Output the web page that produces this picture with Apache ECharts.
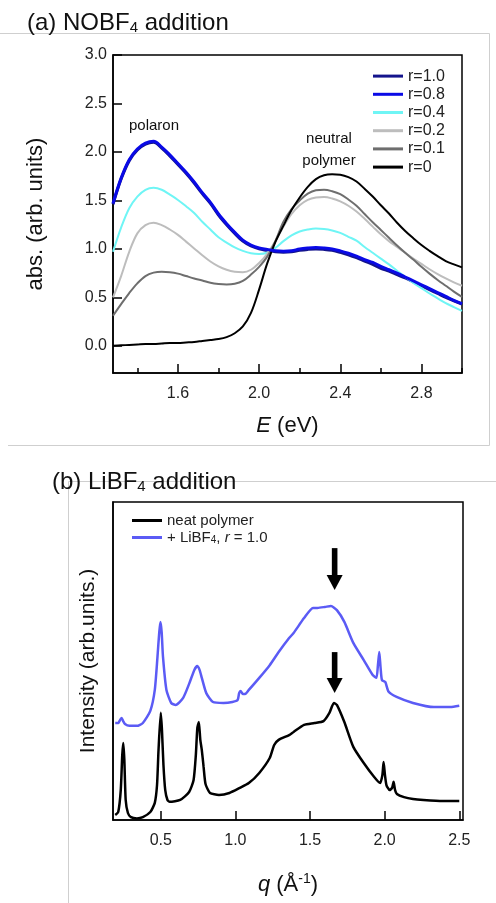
<!DOCTYPE html>
<html><head><meta charset="utf-8">
<script src="https://cdn.jsdelivr.net/npm/echarts@6/dist/echarts.min.js"></script>
<style>html,body{margin:0;padding:0;background:#fff}#c{width:496px;height:903px}</style>
</head><body><div id="c"></div>
<script>
// ---------- Panel (a): absorption vs photon energy ----------
const energy = [1.28,1.32,1.36,1.40,1.44,1.48,1.52,1.56,1.60,1.64,1.68,1.72,1.76,1.80,1.84,1.88,1.92,1.96,2.00,2.04,2.08,2.12,2.16,2.20,2.24,2.28,2.32,2.36,2.40,2.44,2.48,2.52,2.56,2.60,2.64,2.68,2.72,2.76,2.80,2.84,2.88,2.92,2.96,3.00];
const absR10 = [1.46,1.72,1.91,2.02,2.08,2.10,2.04,1.96,1.87,1.78,1.68,1.57,1.47,1.35,1.25,1.16,1.08,1.03,1.00,0.985,0.97,0.965,0.97,0.985,0.995,1.00,0.995,0.985,0.965,0.94,0.91,0.875,0.84,0.80,0.77,0.735,0.70,0.66,0.62,0.58,0.54,0.50,0.465,0.43];
const absR08 = [1.47,1.73,1.92,2.03,2.09,2.11,2.05,1.97,1.88,1.79,1.69,1.58,1.48,1.36,1.26,1.17,1.09,1.04,1.01,0.995,0.98,0.975,0.98,1.00,1.01,1.015,1.01,1.00,0.98,0.955,0.925,0.89,0.86,0.82,0.785,0.75,0.71,0.67,0.63,0.59,0.55,0.51,0.47,0.435];
const absR04 = [0.97,1.22,1.42,1.54,1.61,1.63,1.61,1.56,1.505,1.44,1.37,1.28,1.20,1.12,1.065,1.015,0.98,0.955,0.948,0.96,1.01,1.08,1.14,1.18,1.20,1.21,1.205,1.19,1.165,1.125,1.085,1.02,0.96,0.90,0.84,0.775,0.71,0.65,0.595,0.54,0.49,0.44,0.40,0.36];
const absR02 = [0.50,0.72,0.97,1.16,1.245,1.27,1.245,1.20,1.145,1.075,1.005,0.935,0.87,0.82,0.785,0.765,0.76,0.785,0.855,0.95,1.08,1.23,1.36,1.45,1.505,1.53,1.535,1.52,1.49,1.445,1.385,1.31,1.23,1.15,1.08,1.02,0.96,0.90,0.845,0.79,0.74,0.695,0.655,0.62];
const absR01 = [0.31,0.43,0.545,0.645,0.72,0.755,0.765,0.76,0.745,0.72,0.695,0.675,0.65,0.637,0.632,0.64,0.67,0.735,0.815,0.92,1.08,1.28,1.41,1.50,1.57,1.605,1.61,1.595,1.565,1.51,1.445,1.36,1.275,1.195,1.115,1.035,0.96,0.89,0.815,0.745,0.68,0.62,0.56,0.505];
const absR0  = [0.00,0.005,0.01,0.015,0.02,0.02,0.025,0.03,0.03,0.035,0.04,0.05,0.06,0.07,0.09,0.13,0.20,0.34,0.58,0.85,1.07,1.24,1.40,1.53,1.64,1.72,1.76,1.77,1.765,1.74,1.695,1.62,1.54,1.45,1.365,1.27,1.185,1.11,1.04,0.98,0.925,0.875,0.84,0.81];
const seriesNamesA = ['r=1.0','r=0.8','r=0.4','r=0.2','r=0.1','r=0'];
const yTicksA = [0.0,0.5,1.0,1.5,2.0,2.5,3.0];
const xMajorA = [1.6,2.0,2.4,2.8];
const xMinorA = [1.4,1.8,2.2,2.6,3.0];

// ---------- Panel (b): scattering intensity vs q ----------
const qNeat = [0.195,0.215,0.232,0.242,0.249,0.256,0.265,0.28,0.30,0.34,0.38,0.43,0.46,0.475,0.485,0.50,0.508,0.518,0.53,0.545,0.56,0.63,0.69,0.72,0.735,0.745,0.755,0.765,0.775,0.787,0.80,0.83,0.89,0.96,1.03,1.09,1.16,1.23,1.26,1.29,1.36,1.39,1.46,1.53,1.59,1.63,1.66,1.68,1.73,1.79,1.86,1.93,1.97,1.985,1.993,2.002,2.012,2.033,2.05,2.06,2.07,2.082,2.13,2.19,2.26,2.39,2.50];
const intNeat = [0.16,0.25,0.94,2.04,2.42,1.89,0.63,0.22,0.09,0.05,0.09,0.25,0.54,1.10,2.20,3.37,2.83,1.73,0.94,0.63,0.57,0.63,0.88,1.26,2.04,2.89,3.08,2.52,2.20,1.67,1.13,0.85,0.79,0.85,1.01,1.16,1.48,1.95,2.36,2.52,2.67,2.77,2.99,3.05,3.11,3.37,3.68,3.62,3.08,2.30,1.79,1.35,1.16,1.42,1.82,1.42,1.10,0.94,1.01,1.20,0.94,0.82,0.72,0.66,0.63,0.60,0.60];
const qLi = [0.195,0.215,0.228,0.238,0.248,0.26,0.29,0.34,0.38,0.43,0.46,0.478,0.49,0.498,0.506,0.515,0.538,0.57,0.60,0.65,0.69,0.725,0.744,0.76,0.775,0.805,0.85,0.92,0.98,1.015,1.025,1.035,1.05,1.065,1.09,1.16,1.23,1.29,1.36,1.39,1.46,1.52,1.55,1.60,1.64,1.68,1.73,1.79,1.86,1.92,1.945,1.955,1.964,1.973,1.982,2.004,2.027,2.08,2.19,2.33,2.44,2.50];
const intLi = [3.05,3.05,3.15,3.21,3.11,3.02,2.96,2.96,3.05,3.43,4.09,5.13,5.91,6.23,5.91,5.13,4.09,3.68,3.62,3.84,4.28,4.72,4.84,4.72,4.47,3.99,3.71,3.68,3.71,3.77,3.99,4.06,3.96,3.96,4.09,4.47,4.87,5.28,5.72,5.88,6.35,6.67,6.67,6.70,6.73,6.60,6.23,5.57,5.03,4.56,4.47,4.87,5.28,4.78,4.40,4.34,4.03,3.87,3.68,3.55,3.55,3.59];
const arrowsB = [[1.665, 8.55, 7.23],[1.665, 5.28, 3.99]]; // q, tail, tip
const xTicksB = [0.5,1.0,1.5,2.0,2.5];

const FONT = 'Liberation Sans, Arial, sans-serif';
const pairs = (xs, ys) => xs.map((x, i) => [x, ys[i]]);
const colorsA = ['#14148c','#0a0ae6','#6ff5f5','#bdbdbd','#6e6e6e','#000000'];
const dataA = [absR10, absR08, absR04, absR02, absR01, absR0];

const chart = echarts.init(document.getElementById('c'), null, {renderer: 'canvas'});

const seriesA = seriesNamesA.map((n, i) => ({
  name: n, type: 'line', xAxisIndex: 0, yAxisIndex: 0,
  data: pairs(energy, dataA[i]), showSymbol: false, smooth: 0.35,
  lineStyle: {color: colorsA[i], width: i < 2 ? 3 : 2},
  itemStyle: {color: colorsA[i]}, z: i === 1 ? 3 : 2
}));

const option = {
  animation: false,
  backgroundColor: '#fff',
  textStyle: {fontFamily: FONT},
  grid: [
    {left: 113, top: 55, width: 349, height: 318, show: true, borderColor: '#000', borderWidth: 1.5, backgroundColor: 'transparent'},
    {left: 113, top: 502, width: 350, height: 318, show: true, borderColor: '#000', borderWidth: 1.5, backgroundColor: 'transparent'}
  ],
  xAxis: [
    {gridIndex: 0, type: 'value', min: 1.28, max: 3.0,
     name: '{i|E}{n| (eV)}', nameLocation: 'middle', nameGap: 42,
     nameTextStyle: {rich: {i: {fontSize: 22, fontStyle: 'italic', fontFamily: FONT, color: '#111'}, n: {fontSize: 22, fontFamily: FONT, color: '#111'}}},
     axisLine: {onZero: false, lineStyle: {color: '#000', width: 1.5}},
     axisTick: {inside: true, length: 9, customValues: xMajorA, lineStyle: {color: '#000', width: 1.5}},
     axisLabel: {customValues: xMajorA, formatter: v => v.toFixed(1), fontSize: 16, color: '#222', margin: 13, fontFamily: FONT},
     splitLine: {show: false}},
    {gridIndex: 0, type: 'value', min: 1.28, max: 3.0, position: 'bottom',
     axisLine: {show: false, onZero: false},
     axisTick: {inside: true, length: 5, customValues: xMinorA, lineStyle: {color: '#000', width: 1.5}},
     axisLabel: {show: false}, splitLine: {show: false}},
    {gridIndex: 1, type: 'value', min: 0.18, max: 2.525,
     name: '{i|q}{n| (Å}{s|-1}{n|)}', nameLocation: 'middle', nameGap: 52,
     nameTextStyle: {rich: {i: {fontSize: 22, fontStyle: 'italic', fontFamily: FONT, color: '#111'}, n: {fontSize: 22, fontFamily: FONT, color: '#111'}, s: {fontSize: 14, fontFamily: FONT, color: '#111', padding: [0,0,12,0]}}},
     axisLine: {onZero: false, lineStyle: {color: '#000', width: 1.5}},
     axisTick: {inside: true, length: 9, customValues: xTicksB, lineStyle: {color: '#000', width: 1.5}},
     axisLabel: {customValues: xTicksB, formatter: v => v.toFixed(1), fontSize: 16, color: '#222', margin: 13, fontFamily: FONT},
     splitLine: {show: false}}
  ],
  yAxis: [
    {gridIndex: 0, type: 'value', min: -0.28, max: 3.0,
     name: 'abs. (arb. units)', nameLocation: 'middle', nameGap: 66,
     nameTextStyle: {fontSize: 22, color: '#111', fontFamily: FONT},
     axisLine: {onZero: false, lineStyle: {color: '#000', width: 1.5}},
     axisTick: {inside: true, length: 9, customValues: yTicksA, lineStyle: {color: '#000', width: 1.5}},
     axisLabel: {customValues: yTicksA, formatter: v => v.toFixed(1), fontSize: 16, color: '#222', margin: 6, fontFamily: FONT},
     splitLine: {show: false}},
    {gridIndex: 1, type: 'value', min: 0, max: 10,
     name: 'Intensity (arb.units.)', nameLocation: 'middle', nameGap: 14,
     nameTextStyle: {fontSize: 21, color: '#111', fontFamily: FONT},
     axisLine: {onZero: false, lineStyle: {color: '#000', width: 1.5}},
     axisTick: {show: false}, axisLabel: {show: false}, splitLine: {show: false}}
  ],
  legend: [
    {orient: 'vertical', left: 368, top: 63, itemWidth: 30, itemHeight: 3, itemGap: 2,
     icon: 'rect', data: seriesNamesA,
     textStyle: {fontSize: 16, lineHeight: 16.2, color: '#222', fontFamily: FONT}},
    {orient: 'vertical', left: 127, top: 508, itemWidth: 30, itemHeight: 3, itemGap: 2,
     icon: 'rect', data: ['neat polymer', 'LiBF4'],
     formatter: n => n === 'LiBF4' ? '{n|+ LiBF}{s|4}{n|, }{i|r}{n| = 1.0}' : '{n|neat polymer}',
     textStyle: {fontSize: 15, lineHeight: 15, color: '#222', fontFamily: FONT,
       rich: {n: {fontSize: 15, fontFamily: FONT, color: '#222'}, i: {fontSize: 15, fontStyle: 'italic', fontFamily: FONT, color: '#222'}, s: {fontSize: 10, fontFamily: FONT, color: '#222', padding: [6,0,0,0]}}}}
  ],
  series: [
    ...seriesA,
    {name: 'neat polymer', type: 'line', xAxisIndex: 2, yAxisIndex: 1, data: pairs(qNeat, intNeat),
     showSymbol: false, smooth: 0.2, lineStyle: {color: '#000', width: 2.5}, itemStyle: {color: '#000'}},
    {name: 'LiBF4', type: 'line', xAxisIndex: 2, yAxisIndex: 1, data: pairs(qLi, intLi),
     showSymbol: false, smooth: 0.2, lineStyle: {color: '#5b5bf5', width: 2.5}, itemStyle: {color: '#5b5bf5'}},
    {type: 'custom', xAxisIndex: 2, yAxisIndex: 1, data: arrowsB, encode: {x: 0, y: [1, 2]},
     renderItem: (params, api) => {
       const a = api.coord([api.value(0), api.value(1)]);
       const b = api.coord([api.value(0), api.value(2)]);
       const hh = 15, hw = 8, sw = 2.8;
       return {type: 'group', children: [
         {type: 'rect', shape: {x: a[0] - sw, y: a[1], width: 2 * sw, height: b[1] - hh - a[1] + 1}, style: {fill: '#000'}},
         {type: 'polygon', shape: {points: [[b[0] - hw, b[1] - hh], [b[0] + hw, b[1] - hh], [b[0], b[1]]]}, style: {fill: '#000'}}
       ]};
     }}
  ],
  graphic: [
    {type: 'line', shape: {x1: 0, y1: 33.5, x2: 489.5, y2: 33.5}, style: {stroke: '#cfcfcf', lineWidth: 1}, z: 0},
    {type: 'line', shape: {x1: 489.5, y1: 33.5, x2: 489.5, y2: 445.5}, style: {stroke: '#cfcfcf', lineWidth: 1}, z: 0},
    {type: 'line', shape: {x1: 8, y1: 445.5, x2: 489.5, y2: 445.5}, style: {stroke: '#cfcfcf', lineWidth: 1}, z: 0},
    {type: 'line', shape: {x1: 68.5, y1: 481.5, x2: 496, y2: 481.5}, style: {stroke: '#cfcfcf', lineWidth: 1}, z: 0},
    {type: 'line', shape: {x1: 68.5, y1: 481.5, x2: 68.5, y2: 903}, style: {stroke: '#cfcfcf', lineWidth: 1}, z: 0},
    {type: 'text', left: 27, top: 11, z: 10, style: {text: '{n|(a) NOBF}{s|4}{n| addition}', fill: '#111',
      rich: {n: {fontSize: 24, fontFamily: FONT, fill: '#111'}, s: {fontSize: 15, fontFamily: FONT, fill: '#111', padding: [10,0,0,0]}}}},
    {type: 'text', left: 52, top: 470, z: 10, style: {text: '{n|(b) LiBF}{s|4}{n| addition}', fill: '#111',
      rich: {n: {fontSize: 24, fontFamily: FONT, fill: '#111'}, s: {fontSize: 15, fontFamily: FONT, fill: '#111', padding: [10,0,0,0]}}}},
    {type: 'text', x: 154, y: 126, z: 10, style: {text: 'polaron', fontSize: 15, fontFamily: FONT, fill: '#111', align: 'center', verticalAlign: 'middle'}},
    {type: 'text', x: 329, y: 139, z: 10, style: {text: 'neutral', fontSize: 15, fontFamily: FONT, fill: '#111', align: 'center', verticalAlign: 'middle'}},
    {type: 'text', x: 329, y: 161, z: 10, style: {text: 'polymer', fontSize: 15, fontFamily: FONT, fill: '#111', align: 'center', verticalAlign: 'middle'}}
  ]
};
chart.setOption(option);
</script></body></html>
